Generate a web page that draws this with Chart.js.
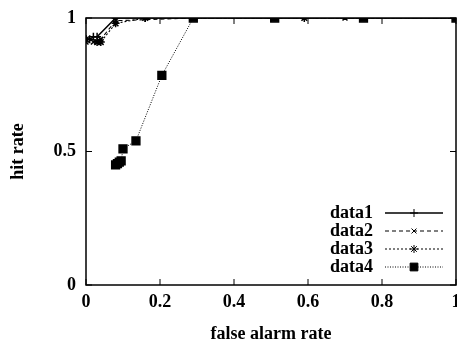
<!DOCTYPE html>
<html>
<head>
<meta charset="utf-8">
<script src="https://cdn.jsdelivr.net/npm/chart.js@4"></script>
<style>
  html, body { margin: 0; padding: 0; background: #fff; }
  #wrap { width: 457px; height: 345px; }
</style>
</head>
<body>
<div id="wrap"><canvas id="roc"></canvas></div>
<script>
// values (x = false alarm rate, y = hit rate)
const data1X = [0, 0.01, 0.02, 0.03, 0.08, 0.16, 0.5, 1];
const data1Y = [0.92, 0.92, 0.93, 0.93, 1, 1, 1, 1];
const data2X = [0, 0.02, 0.04, 0.08, 0.29, 0.7, 1];
const data2Y = [0.91, 0.91, 0.92, 0.99, 1, 1, 1];
const data3X = [0, 0.03, 0.04, 0.08, 0.16, 0.59, 1];
const data3Y = [0.92, 0.91, 0.91, 0.98, 1, 1, 1];
const data4X = [0.08, 0.085, 0.09, 0.095, 0.10, 0.135, 0.205, 0.29, 0.51, 0.75, 1];
const data4Y = [0.45, 0.455, 0.46, 0.465, 0.51, 0.54, 0.785, 1, 1, 1, 1];
const seriesNames = ['data1', 'data2', 'data3', 'data4'];
const xTicks = [0, 0.2, 0.4, 0.6, 0.8, 1];
const yTicks = [0, 0.5, 1];

const FONT = '"Liberation Serif", "DejaVu Serif", serif';

function pts(xs, ys) {
    return xs.map((x, i) => ({ x: x, y: ys[i] }));
}

// frame, inward tick marks and the legend inside the plot
const framePlugin = {
    id: 'frame',
    afterDraw(chart) {
        const ctx = chart.ctx;
        const a = chart.chartArea;
        const xs = chart.scales.x, ys = chart.scales.y;
        ctx.save();
        ctx.strokeStyle = '#000';
        ctx.lineWidth = 1.5;
        ctx.strokeRect(a.left, a.top, a.right - a.left, a.bottom - a.top);
        ctx.lineWidth = 1;
        xTicks.forEach(v => {
            const px = xs.getPixelForValue(v);
            ctx.beginPath();
            ctx.moveTo(px, a.bottom); ctx.lineTo(px, a.bottom - 6);
            ctx.moveTo(px, a.top); ctx.lineTo(px, a.top + 6);
            ctx.stroke();
        });
        yTicks.forEach(v => {
            const py = ys.getPixelForValue(v);
            ctx.beginPath();
            ctx.moveTo(a.left, py); ctx.lineTo(a.left + 6, py);
            ctx.moveTo(a.right, py); ctx.lineTo(a.right - 6, py);
            ctx.stroke();
        });

        // legend
        ctx.font = 'bold 18px ' + FONT;
        ctx.textBaseline = 'middle';
        ctx.textAlign = 'left';
        ctx.fillStyle = '#000';
        chart.data.datasets.forEach((ds, i) => {
            const y = a.bottom - 72 + i * 18;
            ctx.fillText(ds.label, 330, y);
            ctx.save();
            ctx.strokeStyle = '#000';
            ctx.lineWidth = ds.borderWidth;
            ctx.setLineDash(ds.borderDash || []);
            ctx.beginPath();
            ctx.moveTo(385, y); ctx.lineTo(443, y);
            ctx.stroke();
            ctx.restore();
            Chart.helpers.drawPoint(ctx, {
                pointStyle: ds.pointStyle,
                radius: ds.pointRadius,
                borderWidth: 1.5,
                rotation: 0
            }, 414, y);
        });
        ctx.restore();
    }
};

function series(label, xs, ys, dash, style, radius, width) {
    return {
        label: label,
        data: pts(xs, ys),
        borderColor: '#000',
        backgroundColor: '#000',
        borderWidth: width,
        borderDash: dash,
        pointStyle: style,
        pointRadius: radius,
        pointBorderWidth: 1.5,
        pointBorderColor: '#000',
        pointBackgroundColor: '#000',
        showLine: true,
        tension: 0
    };
}

new Chart(document.getElementById('roc'), {
    type: 'scatter',
    data: {
        datasets: [
            series(seriesNames[0], data1X, data1Y, [], 'cross', 4, 1.5),
            series(seriesNames[1], data2X, data2Y, [4, 3], 'crossRot', 3.5, 1.1),
            series(seriesNames[2], data3X, data3Y, [2, 2], 'star', 4, 1.1),
            series(seriesNames[3], data4X, data4Y, [1, 1.5], 'rect', 5.5, 1)
        ]
    },
    options: {
        responsive: true,
        maintainAspectRatio: false,
        animation: false,
        layout: { autoPadding: false, padding: { top: 18, right: 1, left: 0, bottom: 0 } },
        plugins: {
            legend: { display: false },
            tooltip: { enabled: false }
        },
        scales: {
            x: {
                type: 'linear',
                min: 0, max: 1,
                afterBuildTicks: s => { s.ticks = xTicks.map(v => ({ value: v })); },
                afterFit: s => { s.height = 60; s.paddingRight = 0; s.paddingLeft = 0; },
                grid: { display: false, drawTicks: false },
                border: { display: false },
                ticks: {
                    padding: 7,
                    color: '#000',
                    font: { family: FONT, size: 18, weight: 'bold' },
                    callback: v => String(v)
                },
                title: {
                    display: true,
                    text: 'false alarm rate',
                    color: '#000',
                    padding: { top: 1, bottom: 0 },
                    font: { family: FONT, size: 18, weight: 'bold' }
                }
            },
            y: {
                type: 'linear',
                min: 0, max: 1,
                afterBuildTicks: s => { s.ticks = yTicks.map(v => ({ value: v })); },
                afterFit: s => { s.width = 86; s.paddingTop = 0; s.paddingBottom = 0; },
                grid: { display: false, drawTicks: false },
                border: { display: false },
                ticks: {
                    padding: 10,
                    color: '#000',
                    font: { family: FONT, size: 18, weight: 'bold' },
                    callback: v => String(v)
                },
                title: {
                    display: true,
                    text: 'hit rate',
                    color: '#000',
                    padding: { top: 8, bottom: 0 },
                    font: { family: FONT, size: 18, weight: 'bold' }
                }
            }
        }
    },
    plugins: [framePlugin]
});
</script>
</body>
</html>
